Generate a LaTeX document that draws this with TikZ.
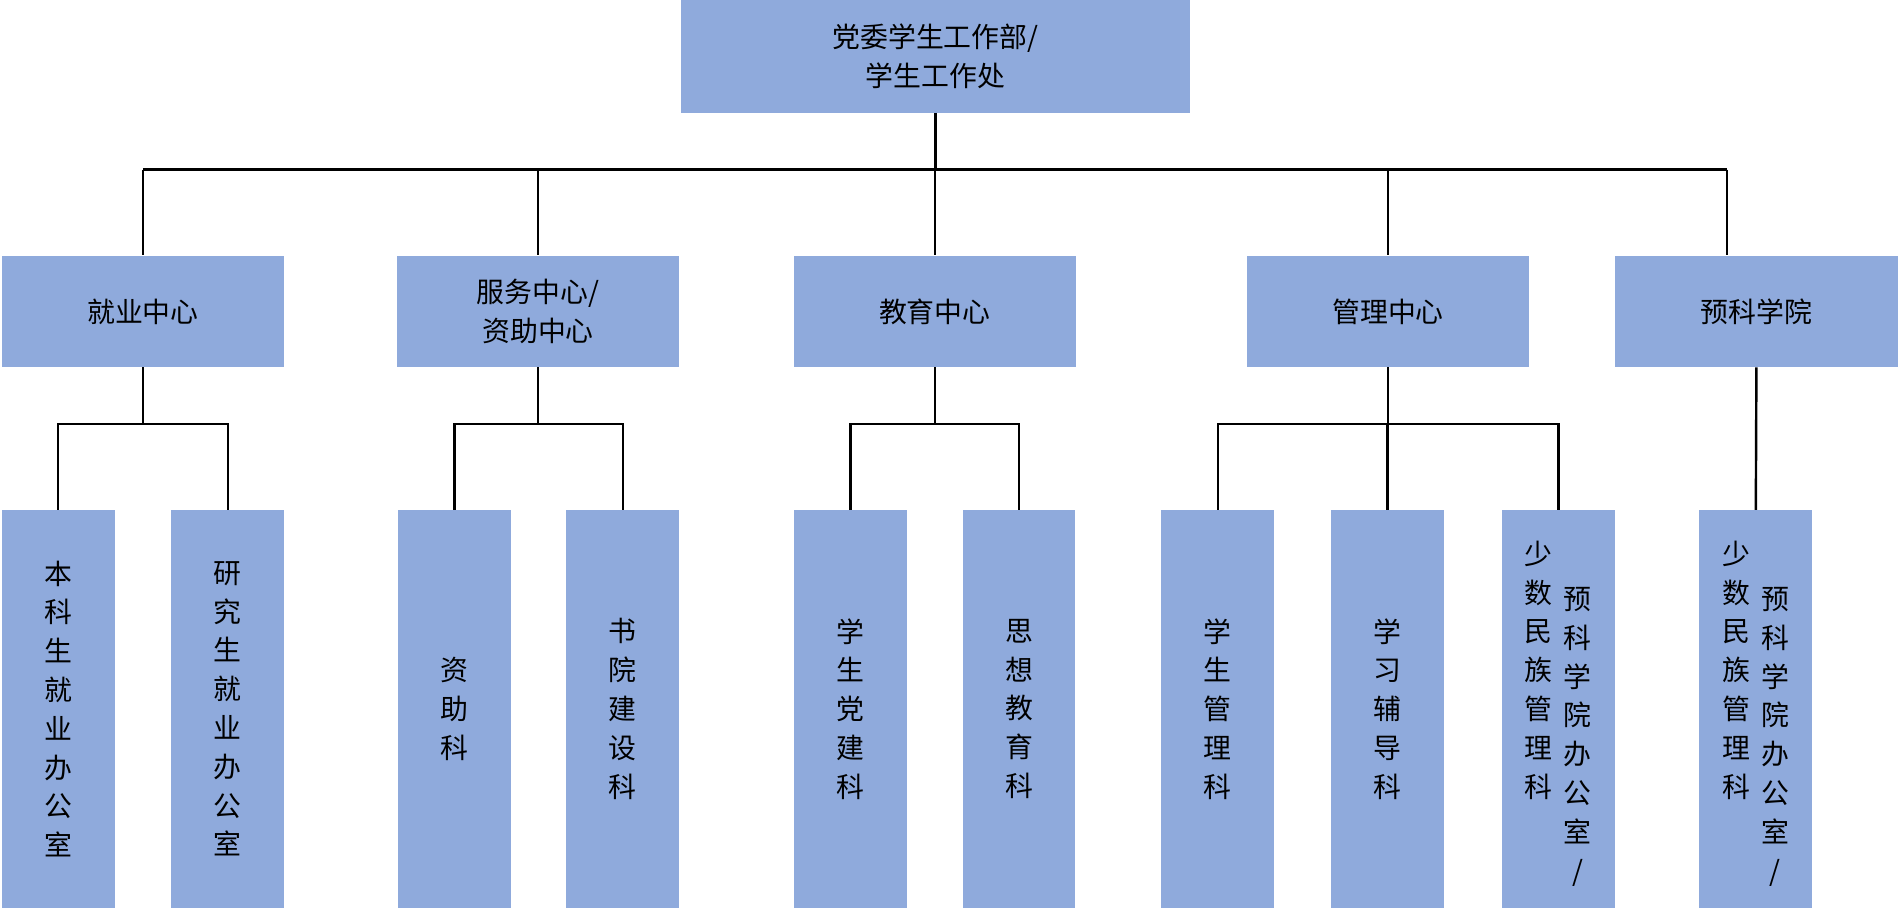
\documentclass[tikz,border=0pt]{standalone}
\usepackage{fontspec}
\newfontfamily\cjk{Noto Sans CJK SC}
\definecolor{boxc}{HTML}{8FAADC}
\begin{document}
\begin{tikzpicture}[x=1pt,y=-1pt,
  bx/.style={fill=boxc,draw=none,inner sep=0pt,align=center,font=\cjk\fontsize{23}{32}\selectfont},
  ln/.style={line width=2pt,black}]
\useasboundingbox (0,0) rectangle (1568,749);
% boxes
\node[bx,minimum width=420,minimum height=93] (top) at (772,46.5) {党委学生工作部/\\学生工作处};
\foreach \n/\x/\t in {a/118/就业中心,b/444/{服务中心/\\资助中心},c/771.5/教育中心,d/1145.5/管理中心,e/1449.5/预科学院}{
  \node[bx,minimum width=233,minimum height=92] (\n) at (\x,257) {\t};}
\foreach \n/\x/\t in {a1/48/{本\\科\\生\\就\\业\\办\\公\\室},a2/188/{研\\究\\生\\就\\业\\办\\公\\室},
  b1/375/{资\\助\\科},b2/514/{书\\院\\建\\设\\科},c1/702/{学\\生\\党\\建\\科},c2/841/{思\\想\\教\\育\\科},
  d1/1005/{学\\生\\管\\理\\科},d2/1145/{学\\习\\辅\\导\\科}}{
  \node[bx,minimum width=93,minimum height=328] (\n) at (\x,585) {};
  \node[bx] at (\x,585) {\t};}
\foreach \n/\x in {d3/1286,e1/1449}{
  \node[bx,minimum width=93,minimum height=328] (\n) at (\x,585) {};
  \node[bx] at (\x-16,553) {少\\数\\民\\族\\管\\理\\科};
  \node[bx] at (\x+16,608) {预\\科\\学\\院\\办\\公\\室\\/};}
% connectors
\draw[ln] (top.south) -- (772,140);
\draw[ln] (118,140) -- (1425,140);
\foreach \n in {a,b,c,d}{\draw[ln] (\n.north |- 0,140) -- (\n.north);}
\draw[ln] (1425,140) -- (e.north -| 1425,0);
\foreach \n/\l/\r in {a/a1/a2,b/b1/b2,c/c1/c2,d/d1/d3}{
  \draw[ln] (\n.south) -- (\n.south |- 0,350);
  \draw[ln] (\l.north) -- (\l.north |- 0,350) -- (\r.north |- 0,350) -- (\r.north);}
\draw[ln] (d2.north) -- (d2.north |- 0,350);
\draw[ln] (e.south) -- (e1.north);
\end{tikzpicture}
\end{document}
